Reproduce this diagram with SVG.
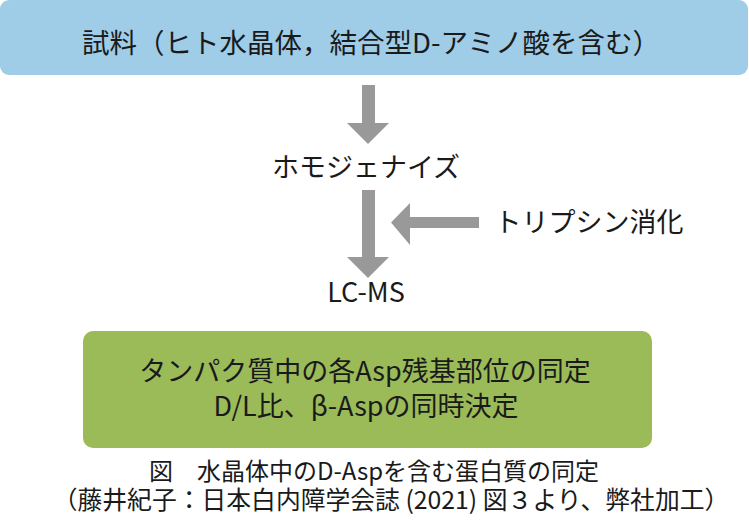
<svg xmlns="http://www.w3.org/2000/svg" width="749" height="520" viewBox="0 0 749 520">
<defs>
<style>
text{font-family:"Noto Sans CJK JP","Noto Sans",sans-serif;fill:#1a1a1a;text-anchor:middle}
.t{font-size:27px}
.h{font-size:27.5px}
.c{font-size:24px}
.c2{font-size:24.8px}
.arrow{fill:#999999}
</style>
</defs>
<rect width="749" height="520" fill="#ffffff"/>
<g id="sample">
<rect x="0" y="0" width="748" height="75" rx="9" fill="#9fcce7"/>
<text class="h" x="371" y="53">試料（ヒト水晶体，結合型D-アミノ酸を含む）</text>
</g>
<g id="connectors">
<polygon class="arrow" points="362,85 375,85 375,123 389,123 368,144 347,123 362,123"/>
<polygon class="arrow" points="362,190 375,190 375,257 389,257 368,278 347,257 362,257"/>
<polygon class="arrow" points="479,217 479,228 410,228 410,245 391,222.5 410,203 410,217"/>
</g>
<g id="homogenize">
<text class="t" x="366" y="177">ホモジェナイズ</text>
</g>
<g id="trypsin">
<text class="t" x="589" y="232">トリプシン消化</text>
</g>
<g id="lcms">
<text class="t" x="366" y="302">LC-MS</text>
</g>
<g id="result">
<rect x="83" y="331" width="569" height="117" rx="10" fill="#9bbb59"/>
<text class="t" x="365" y="381">タンパク質中の各Asp残基部位の同定</text>
<text class="t" x="366" y="416">D/L比、β-Aspの同時決定</text>
</g>
<g id="caption">
<text class="c" x="374" y="480">図　水晶体中のD-Aspを含む蛋白質の同定</text>
<text class="c2" x="391" y="509">（藤井紀子：日本白内障学会誌 (2021) 図３より、弊社加工）</text>
</g>
</svg>
